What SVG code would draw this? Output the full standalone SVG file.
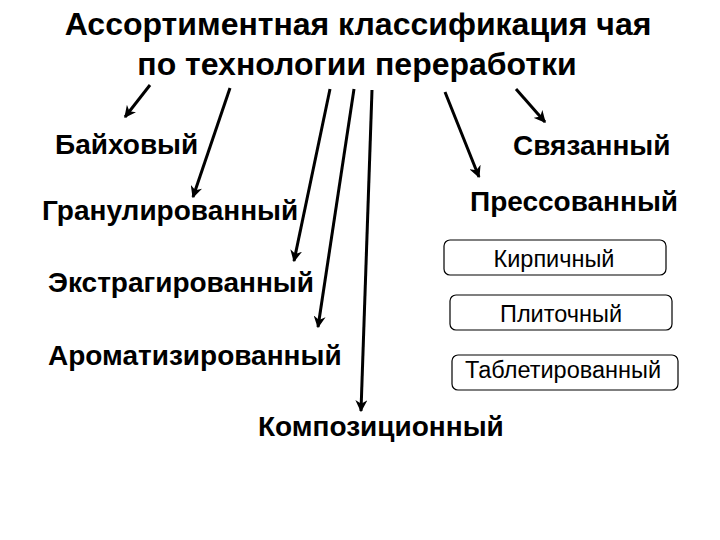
<svg xmlns="http://www.w3.org/2000/svg" width="720" height="540" viewBox="0 0 720 540">
<defs>
<marker id="ah" viewBox="0 0 10 10" refX="9" refY="5" markerWidth="4" markerHeight="4" orient="auto" markerUnits="strokeWidth">
<path d="M0,0 L10,5 L0,10 L3,5 Z" fill="#000"/>
</marker>
<style>
.t{font-family:"Liberation Sans",Arial,sans-serif;font-weight:bold;fill:#000}
.lbl{font-size:28px}
.ttl{font-size:32px}
.box{fill:#fff;stroke:#000;stroke-width:1.2}
.bt{font-family:"Liberation Sans",Arial,sans-serif;font-size:23.5px;fill:#000;text-anchor:middle}
.c line{stroke:#000;stroke-width:3;marker-end:url(#ah)}
</style>
</defs>
<rect width="720" height="540" fill="#fff"/>
<g id="title">
<text class="t ttl" x="358" y="35" text-anchor="middle">Ассортиментная классификация чая</text>
<text class="t ttl" x="357" y="75" text-anchor="middle">по технологии переработки</text>
</g>
<g class="c" id="connectors">
<line x1="150" y1="85" x2="125" y2="117"/>
<line x1="230" y1="88" x2="193" y2="197"/>
<line x1="330" y1="89" x2="294" y2="261"/>
<line x1="354" y1="89" x2="318" y2="327"/>
<line x1="372" y1="90" x2="361" y2="411"/>
<line x1="445" y1="92" x2="479" y2="177"/>
<line x1="516" y1="89" x2="545" y2="122"/>
</g>
<g id="n-baikh"><text class="t lbl" x="55" y="154">Байховый</text></g>
<g id="n-svyaz"><text class="t lbl" x="513" y="155">Связанный</text></g>
<g id="n-granul"><text class="t lbl" x="42" y="220">Гранулированный</text></g>
<g id="n-press"><text class="t lbl" x="470" y="211">Прессованный</text></g>
<g id="n-ekstr"><text class="t lbl" x="48" y="292">Экстрагированный</text></g>
<g id="n-aromat"><text class="t lbl" x="48" y="365">Ароматизированный</text></g>
<g id="n-kompoz"><text class="t lbl" x="258" y="436">Композиционный</text></g>
<g id="n-kirp"><rect class="box" x="444" y="240" width="222" height="35" rx="6"/><text class="bt" x="554" y="267">Кирпичный</text></g>
<g id="n-plit"><rect class="box" x="450" y="295" width="222" height="35" rx="6"/><text class="bt" x="561" y="322">Плиточный</text></g>
<g id="n-tabl"><rect class="box" x="452" y="355" width="226" height="35" rx="6"/><text class="bt" x="563" y="378">Таблетированный</text></g>
</svg>
